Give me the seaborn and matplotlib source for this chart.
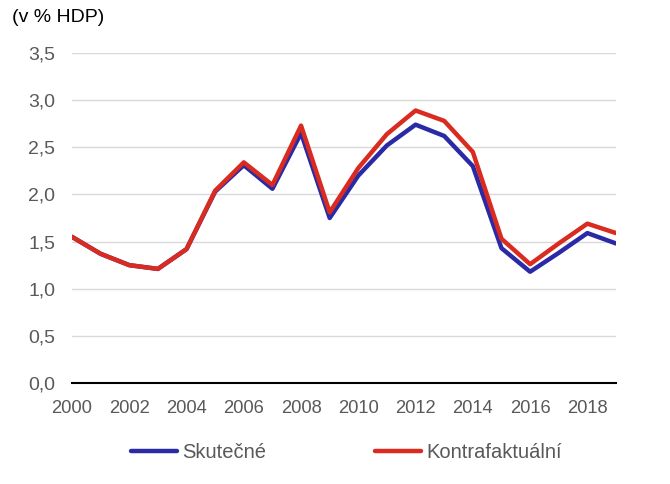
import numpy as np
import pandas as pd
import matplotlib
matplotlib.use("Agg")
import matplotlib.pyplot as plt
import seaborn as sns

years = list(range(2000, 2020))
skutecne = [1.55, 1.37, 1.25, 1.21, 1.42, 2.03, 2.31, 2.06, 2.65, 1.75,
            2.20, 2.52, 2.74, 2.62, 2.30, 1.43, 1.18, 1.38, 1.59, 1.48]
kontrafaktualni = [1.55, 1.37, 1.25, 1.21, 1.42, 2.04, 2.34, 2.10, 2.73, 1.81,
                   2.28, 2.64, 2.89, 2.78, 2.45, 1.53, 1.26, 1.48, 1.69, 1.59]
series_names = ["Skutečné", "Kontrafaktuální"]
colors = ["#2a2aa6", "#d92b20"]

df = pd.DataFrame({
    "rok": years * 2,
    "hodnota": skutecne + kontrafaktualni,
    "serie": [series_names[0]] * len(years) + [series_names[1]] * len(years),
})

sns.set_style("white")
plt.rcParams["font.family"] = ["Liberation Sans", "DejaVu Sans"]

fig = plt.figure(figsize=(6.7, 4.84), dpi=100)
ax = fig.add_axes([72 / 670, 1 - 383 / 484, (616 - 72) / 670, (383 - 53) / 484])

sns.lineplot(data=df, x="rok", y="hodnota", hue="serie", palette=colors,
             linewidth=3.2, ax=ax, legend=True)

ax.set_xlim(2000, 2019)
ax.set_ylim(0, 3.5)
ax.set_yticks(np.arange(0, 3.51, 0.5))
ax.set_yticklabels([f"{v:.1f}".replace(".", ",") for v in np.arange(0, 3.51, 0.5)])
ax.set_xticks(range(2000, 2019, 2))
ax.grid(axis="y", color="#d9d9d9", linewidth=1)
ax.set_axisbelow(True)
for s in ["top", "right", "left"]:
    ax.spines[s].set_visible(False)
ax.spines["bottom"].set_color("black")
ax.spines["bottom"].set_linewidth(1.5)
ax.tick_params(axis="x", direction="out", length=5, width=1.2, color="black",
               labelsize=13.2, labelcolor="#595959", pad=7)
ax.tick_params(axis="y", length=0, labelsize=14, labelcolor="#595959", pad=12)
ax.set_xlabel("")
ax.set_ylabel("")

fig.text(12 / 670, 1 - 18 / 484, "(v % HDP)", fontsize=14, color="black", va="center")

handles, labels = ax.get_legend_handles_labels()
ax.legend(handles, labels, loc="center", bbox_to_anchor=(0.505, -0.21), ncol=2,
          frameon=False, fontsize=14.5, labelcolor="#595959", handlelength=2.25,
          handletextpad=0.3, columnspacing=5.4)

fig.savefig("out.png", dpi=100)
